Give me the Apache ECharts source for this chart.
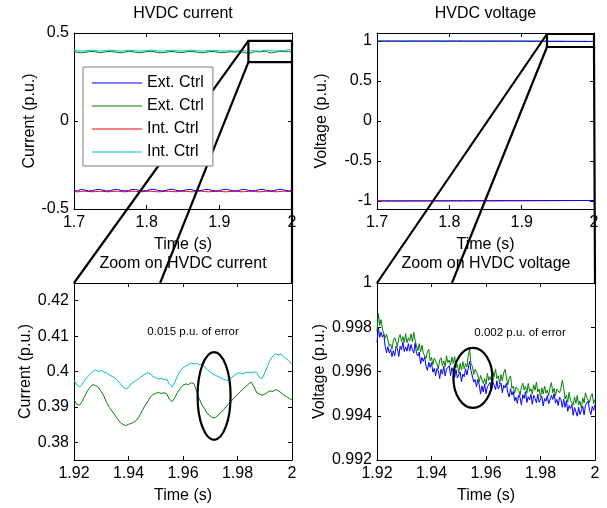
<!DOCTYPE html>
<html>
<head>
<meta charset="utf-8">
<script src="https://cdn.jsdelivr.net/npm/echarts@6/dist/echarts.min.js"></script>
<style>
  html, body { margin: 0; padding: 0; background: #fff; }
  #chart { width: 607px; height: 508px; }
</style>
</head>
<body>
<div id="chart"></div>
<script>
// ---- HVDC current: 1.70 .. 1.915 s, 5 ms samples (positive pole) ----
const curWideStart = 1.70, curWideStep = 0.005;
const greenCurWide = [0.3935,0.3905,0.3870,0.3895,0.3940,0.3950,0.3925,0.3885,0.3900,0.3945,
  0.3955,0.3930,0.3890,0.3880,0.3915,0.3950,0.3945,0.3905,0.3875,0.3900,
  0.3940,0.3955,0.3935,0.3895,0.3870,0.3895,0.3935,0.3950,0.3920,0.3885,
  0.3890,0.3935,0.3955,0.3940,0.3900,0.3875,0.3890,0.3935,0.3950,0.3930,
  0.3895,0.3880,0.3905,0.3935];
const cyanCurWide = [0.4010,0.3990,0.3965,0.3980,0.4010,0.4020,0.4000,0.3975,0.3985,0.4015,
  0.4025,0.4005,0.3980,0.3970,0.3995,0.4020,0.4015,0.3990,0.3965,0.3985,
  0.4010,0.4025,0.4010,0.3985,0.3965,0.3980,0.4010,0.4020,0.4000,0.3975,
  0.3980,0.4010,0.4025,0.4015,0.3990,0.3970,0.3980,0.4010,0.4020,0.4005,
  0.3985,0.3970,0.3985,0.4000];

// ---- HVDC current: negative pole, 1.70 .. 2.00 s, 5 ms samples ----
const blueCurNeg = [-0.3975,-0.3960,-0.3880,-0.3930,-0.3970,-0.3965,-0.3905,-0.3880,-0.3940,-0.3975,
  -0.3960,-0.3900,-0.3885,-0.3945,-0.3970,-0.3950,-0.3895,-0.3890,-0.3950,-0.3975,
  -0.3955,-0.3895,-0.3880,-0.3935,-0.3975,-0.3960,-0.3900,-0.3875,-0.3930,-0.3970,
  -0.3960,-0.3905,-0.3885,-0.3940,-0.3975,-0.3955,-0.3895,-0.3890,-0.3945,-0.3975,
  -0.3960,-0.3900,-0.3880,-0.3935,-0.3970,-0.3960,-0.3905,-0.3885,-0.3940,-0.3970,
  -0.3955,-0.3895,-0.3885,-0.3945,-0.3975,-0.3960,-0.3900,-0.3880,-0.3935,-0.3970,
  -0.3960];
const redCurNeg = [-0.4010,-0.4025,-0.4000,-0.3985,-0.4005,-0.4020,-0.4010,-0.3990,-0.4000,-0.4020,
  -0.4015,-0.3995,-0.3990,-0.4010,-0.4025,-0.4005,-0.3990,-0.4000,-0.4020,-0.4015,
  -0.3995,-0.3985,-0.4005,-0.4025,-0.4015,-0.3995,-0.3990,-0.4010,-0.4020,-0.4005,
  -0.3990,-0.4000,-0.4020,-0.4020,-0.4000,-0.3985,-0.4005,-0.4025,-0.4010,-0.3995,
  -0.3995,-0.4015,-0.4025,-0.4005,-0.3990,-0.4000,-0.4020,-0.4015,-0.3995,-0.3990,
  -0.4010,-0.4025,-0.4010,-0.3990,-0.3995,-0.4015,-0.4020,-0.4000,-0.3985,-0.4005,
  -0.4020];

// ---- HVDC current: 1.92 .. 2.00 s, 1 ms samples ----
const curZoomStart = 1.92, curZoomStep = 0.001;
const greenCurZoom = [0.3920,0.3908,0.3905,0.3915,0.3931,0.3946,0.3957,0.3963,0.3960,0.3955,
  0.3943,0.3930,0.3912,0.3898,0.3888,0.3877,0.3866,0.3856,0.3850,0.3847,
  0.3851,0.3853,0.3857,0.3863,0.3874,0.3889,0.3903,0.3914,0.3928,0.3935,
  0.3938,0.3941,0.3938,0.3940,0.3937,0.3922,0.3915,0.3926,0.3941,0.3953,
  0.3961,0.3965,0.3963,0.3968,0.3966,0.3944,0.3922,0.3905,0.3893,0.3881,
  0.3874,0.3869,0.3870,0.3878,0.3885,0.3893,0.3902,0.3910,0.3919,0.3928,
  0.3935,0.3943,0.3951,0.3957,0.3964,0.3970,0.3958,0.3941,0.3937,0.3933,
  0.3936,0.3941,0.3945,0.3944,0.3949,0.3946,0.3940,0.3934,0.3929,0.3924,
  0.3920];
const cyanCurZoom = [0.3976,0.3962,0.3956,0.3964,0.3976,0.3985,0.3993,0.4001,0.4005,0.3999,
  0.4003,0.3998,0.3996,0.3990,0.3986,0.3982,0.3974,0.3966,0.3956,0.3951,
  0.3955,0.3966,0.3970,0.3975,0.3981,0.3987,0.3992,0.3997,0.3993,0.3986,
  0.3982,0.3979,0.3981,0.3977,0.3979,0.3965,0.3956,0.3970,0.3988,0.4003,
  0.4010,0.4016,0.4019,0.4024,0.4021,0.4023,0.4019,0.4021,0.4012,0.4005,
  0.3998,0.3993,0.3989,0.3985,0.3981,0.3978,0.3975,0.3976,0.3984,0.3990,
  0.3995,0.3996,0.3993,0.3997,0.3998,0.3996,0.3999,0.3998,0.3984,0.3980,
  0.3996,0.4015,0.4032,0.4044,0.4050,0.4047,0.4049,0.4040,0.4036,0.4028,
  0.4021];

// ---- HVDC voltage: 1.70 .. 1.91 s, 10 ms samples (positive pole) ----
const volWideStart = 1.70, volWideStep = 0.01;
const greenVolWide = [0.9990,0.9993,0.9988,0.9991,0.9986,0.9989,0.9992,0.9987,0.9990,0.9985,
  0.9988,0.9991,0.9986,0.9983,0.9987,0.9984,0.9988,0.9982,0.9985,0.9981,0.9984,0.9980];
const blueVolWide = [0.9986,0.9988,0.9984,0.9987,0.9981,0.9985,0.9987,0.9983,0.9985,0.9981,
  0.9984,0.9986,0.9982,0.9979,0.9982,0.9980,0.9983,0.9978,0.9981,0.9977,0.9980,0.9976];

// ---- HVDC voltage: negative pole, 1.70 .. 2.00 s, 10 ms samples ----
const blueVolNeg = [-1.0000,-0.9998,-0.9995,-0.9996,-0.9992,-0.9990,-0.9991,-0.9987,-0.9985,-0.9986,
  -0.9982,-0.9980,-0.9978,-0.9979,-0.9975,-0.9972,-0.9973,-0.9970,-0.9966,-0.9967,
  -0.9963,-0.9960,-0.9958,-0.9955,-0.9953,-0.9950,-0.9948,-0.9946,-0.9943,-0.9940,-0.9938];
const redVolNeg = [-0.9995,-0.9992,-0.9990,-0.9991,-0.9987,-0.9985,-0.9986,-0.9982,-0.9980,-0.9981,
  -0.9977,-0.9975,-0.9973,-0.9974,-0.9970,-0.9967,-0.9968,-0.9965,-0.9961,-0.9962,
  -0.9958,-0.9955,-0.9953,-0.9950,-0.9948,-0.9945,-0.9943,-0.9941,-0.9938,-0.9935,-0.9933];

// ---- HVDC voltage: 1.92 .. 2.00 s, 0.5 ms samples ----
const volZoomStart = 1.92, volZoomStep = 0.0005;
const greenVolZoom = [0.99780,0.99862,0.99808,0.99834,0.99792,0.99791,0.99750,0.99769,0.99770,0.99714,
  0.99724,0.99701,0.99740,0.99753,0.99734,0.99712,0.99752,0.99767,0.99736,0.99758,
  0.99732,0.99771,0.99730,0.99752,0.99738,0.99770,0.99736,0.99777,0.99738,0.99741,
  0.99694,0.99726,0.99688,0.99719,0.99682,0.99691,0.99660,0.99689,0.99700,0.99649,
  0.99664,0.99631,0.99660,0.99663,0.99634,0.99612,0.99652,0.99662,0.99626,0.99648,
  0.99622,0.99671,0.99640,0.99652,0.99628,0.99665,0.99636,0.99667,0.99618,0.99631,
  0.99594,0.99636,0.99608,0.99644,0.99612,0.99636,0.99620,0.99674,0.99700,0.99634,
  0.99624,0.99586,0.99610,0.99613,0.99584,0.99552,0.99582,0.99587,0.99546,0.99568,
  0.99542,0.99591,0.99560,0.99577,0.99558,0.99600,0.99576,0.99612,0.99568,0.99581,
  0.99544,0.99586,0.99558,0.99594,0.99610,0.99571,0.99540,0.99569,0.99580,0.99524,
  0.99534,0.99501,0.99530,0.99538,0.99514,0.99492,0.99532,0.99547,0.99516,0.99533,
  0.99502,0.99546,0.99510,0.99522,0.99498,0.99540,0.99516,0.99552,0.99508,0.99521,
  0.99484,0.99526,0.99498,0.99534,0.99502,0.99516,0.99490,0.99529,0.99550,0.99504,
  0.99524,0.99491,0.99520,0.99528,0.99504,0.99525,0.99560,0.99527,0.99476,0.99493,
  0.99462,0.99506,0.99470,0.99477,0.99448,0.99485,0.99456,0.99492,0.99448,0.99466,
  0.99434,0.99481,0.99458,0.99504,0.99482,0.99491,0.99460,0.99489,0.99500,0.99454,
  0.99474];
const blueVolZoom = [0.99730,0.99800,0.99754,0.99778,0.99756,0.99767,0.99714,0.99685,0.99712,0.99684,
  0.99700,0.99667,0.99694,0.99671,0.99714,0.99702,0.99668,0.99715,0.99698,0.99734,
  0.99690,0.99711,0.99692,0.99726,0.99692,0.99722,0.99698,0.99683,0.99728,0.99681,
  0.99670,0.99688,0.99634,0.99663,0.99646,0.99667,0.99624,0.99605,0.99642,0.99619,
  0.99640,0.99597,0.99614,0.99581,0.99614,0.99602,0.99568,0.99610,0.99588,0.99624,
  0.99580,0.99611,0.99602,0.99626,0.99582,0.99617,0.99598,0.99573,0.99608,0.99571,
  0.99570,0.99598,0.99554,0.99588,0.99576,0.99612,0.99584,0.99590,0.99646,0.99604,
  0.99600,0.99552,0.99564,0.99531,0.99564,0.99542,0.99498,0.99535,0.99508,0.99544,
  0.99500,0.99531,0.99522,0.99551,0.99512,0.99552,0.99538,0.99518,0.99558,0.99521,
  0.99520,0.99548,0.99504,0.99538,0.99526,0.99547,0.99504,0.99485,0.99522,0.99494,
  0.99510,0.99467,0.99484,0.99456,0.99494,0.99482,0.99448,0.99495,0.99478,0.99509,
  0.99460,0.99486,0.99472,0.99496,0.99452,0.99492,0.99478,0.99458,0.99498,0.99461,
  0.99460,0.99488,0.99444,0.99478,0.99466,0.99492,0.99454,0.99445,0.99492,0.99474,
  0.99500,0.99457,0.99474,0.99446,0.99484,0.99472,0.99438,0.99475,0.99438,0.99469,
  0.99420,0.99446,0.99432,0.99451,0.99402,0.99437,0.99418,0.99398,0.99438,0.99406,
  0.99410,0.99443,0.99404,0.99448,0.99446,0.99467,0.99424,0.99405,0.99442,0.99424,
  0.99450];

// ---- tick labels ----
const ticksTimeWide = [1.7, 1.8, 1.9, 2];
const ticksTimeZoom = [1.92, 1.94, 1.96, 1.98, 2];
const ticksCur = [-0.5, 0, 0.5];
const ticksVol = [-1, -0.5, 0, 0.5, 1];
const ticksCurZoom = [0.38, 0.39, 0.4, 0.41, 0.42];
const ticksVolZoom = [0.992, 0.994, 0.996, 0.998, 1];

// ---- zoom-box annotations (data coordinates) ----
const curBox = { x0: 1.94, x1: 2.0, y0: 0.335, y1: 0.455 };
const curBoxFoot = { xs: [1.92, 1.9516, 2.0], y: 0.425 };   // landing points on the zoom panel top edge
const volBox = { x0: 1.935, x1: 2.0, y0: 0.925, y1: 1.0875 };
const volBoxFoot = { xs: [1.92, 1.9475, 2.0], y: 1.0 };
const curErr = { cx: 1.9714, cy: 0.3931, rx: 0.00606, ry: 0.0124, tx: 1.9637, ty: 0.4112, text: '0.015 p.u. of error' };
const volErr = { cx: 1.9552, cy: 0.99571, rx: 0.00716, ry: 0.001356, tx: 1.9725, ty: 0.99774, text: '0.002 p.u. of error' };

const FONT = '"Liberation Sans", Arial, Helvetica, sans-serif';
const BLUE = '#0000ff', GREEN = '#008000', RED = '#ff0000', CYAN = '#00bfbf';

const timeGrid = (start, step, n) => Array.from({ length: n }, (_, i) => +(start + i * step).toFixed(5));
const pairs = (ts, vs) => vs.map((v, i) => [ts[i], v]);

const tCurWide = timeGrid(curWideStart, curWideStep, greenCurWide.length);
const tCurNeg = timeGrid(curWideStart, curWideStep, blueCurNeg.length);
const tCurZoom = timeGrid(curZoomStart, curZoomStep, greenCurZoom.length);
const tVolWide = timeGrid(volWideStart, volWideStep, greenVolWide.length);
const tVolNeg = timeGrid(volWideStart, volWideStep, blueVolNeg.length);
const tVolZoom = timeGrid(volZoomStart, volZoomStep, greenVolZoom.length);

const grids = [
  { left: 74, top: 33, width: 218, height: 176 },
  { left: 377, top: 33, width: 217, height: 176 },
  { left: 74, top: 283, width: 218, height: 177 },
  { left: 377, top: 283, width: 218, height: 177 }
];

const axisFmt = v => String(+(+v).toFixed(4));
const lineStyleAxis = { show: true, onZero: false, lineStyle: { color: '#000', width: 1 } };
const tickStyle = ticks => ({ show: true, inside: true, length: 4, lineStyle: { color: '#000' }, customValues: ticks });

function mainX(k, min, max, ticks, name) {
  return {
    type: 'value', gridIndex: k, min, max, position: 'bottom',
    axisLine: lineStyleAxis, axisTick: tickStyle(ticks),
    axisLabel: { show: true, margin: 6, color: '#000', fontSize: 16, fontFamily: FONT, customValues: ticks, formatter: axisFmt },
    splitLine: { show: false },
    name, nameLocation: 'middle', nameGap: 28,
    nameTextStyle: { color: '#000', fontSize: 16, fontFamily: FONT }
  };
}
function topX(k, min, max, ticks, title) {
  return {
    type: 'value', gridIndex: k, min, max, position: 'top',
    axisLine: lineStyleAxis, axisTick: tickStyle(ticks),
    axisLabel: { show: false }, splitLine: { show: false },
    name: title, nameLocation: 'middle', nameGap: 11,
    nameTextStyle: { color: '#000', fontSize: 16, fontFamily: FONT }
  };
}
function mainY(k, min, max, ticks, name, gap) {
  return {
    type: 'value', gridIndex: k, min, max, position: 'left',
    axisLine: lineStyleAxis, axisTick: tickStyle(ticks),
    axisLabel: { show: true, margin: 5, color: '#000', fontSize: 16, fontFamily: FONT, customValues: ticks, formatter: axisFmt },
    splitLine: { show: false },
    name, nameLocation: 'middle', nameGap: gap, nameRotate: 90,
    nameTextStyle: { color: '#000', fontSize: 16, fontFamily: FONT }
  };
}
function rightY(k, min, max, ticks) {
  return {
    type: 'value', gridIndex: k, min, max, position: 'right',
    axisLine: lineStyleAxis, axisTick: tickStyle(ticks),
    axisLabel: { show: false }, splitLine: { show: false }
  };
}

function line(name, k, data, color) {
  return {
    type: 'line', name, xAxisIndex: k, yAxisIndex: k, data,
    symbol: 'none', showSymbol: false, animation: false, clip: true,
    lineStyle: { color, width: 1 }, itemStyle: { color }
  };
}

const chart = echarts.init(document.getElementById('chart'), null, { renderer: 'canvas' });

chart.setOption({
  backgroundColor: '#fff',
  animation: false,
  grid: grids.map(g => Object.assign({ containLabel: false }, g)),
  xAxis: [
    mainX(0, 1.7, 2.0, ticksTimeWide, 'Time (s)'),
    mainX(1, 1.7, 2.0, ticksTimeWide, 'Time (s)'),
    mainX(2, 1.92, 2.0, ticksTimeZoom, 'Time (s)'),
    mainX(3, 1.92, 2.0, ticksTimeZoom, 'Time (s)'),
    topX(0, 1.7, 2.0, ticksTimeWide, 'HVDC current'),
    topX(1, 1.7, 2.0, ticksTimeWide, 'HVDC voltage'),
    topX(2, 1.92, 2.0, ticksTimeZoom, 'Zoom on HVDC current'),
    topX(3, 1.92, 2.0, ticksTimeZoom, 'Zoom on HVDC voltage')
  ],
  yAxis: [
    mainY(0, -0.5, 0.5, ticksCur, 'Current (p.u.)', 28),
    mainY(1, -1.1, 1.1, ticksVol, 'Voltage (p.u.)', 47),
    mainY(2, 0.375, 0.425, ticksCurZoom, 'Current (p.u.)', 28),
    mainY(3, 0.992, 1.0, ticksVolZoom, 'Voltage (p.u.)', 47),
    rightY(0, -0.5, 0.5, ticksCur),
    rightY(1, -1.1, 1.1, ticksVol),
    rightY(2, 0.375, 0.425, ticksCurZoom),
    rightY(3, 0.992, 1.0, ticksVolZoom)
  ],
  legend: {
    data: ['Ext. Ctrl|neg', 'Ext. Ctrl|pos', 'Int. Ctrl|neg', 'Int. Ctrl|pos'],
    formatter: n => n.split('|')[0],
    orient: 'vertical', left: 83, top: 67,
    padding: [8, 9, 6, 9],
    icon: 'rect', itemWidth: 50, itemHeight: 1, itemGap: 7,
    backgroundColor: '#fff', borderColor: '#7f7f7f', borderWidth: 1, borderRadius: 0,
    selectedMode: false, z: 10,
    textStyle: { color: '#000', fontSize: 16, fontFamily: FONT, lineHeight: 16 }
  },
  series: [
    // HVDC current, full window
    line('Int. Ctrl|neg', 0, pairs(tCurNeg, redCurNeg), RED),
    line('Ext. Ctrl|neg', 0, pairs(tCurNeg, blueCurNeg), BLUE),
    line('Ext. Ctrl|pos', 0, pairs(tCurWide, greenCurWide).concat(pairs(tCurZoom, greenCurZoom)), GREEN),
    line('Int. Ctrl|pos', 0, pairs(tCurWide, cyanCurWide).concat(pairs(tCurZoom, cyanCurZoom)), CYAN),
    // HVDC voltage, full window
    line('V ext pos', 1, pairs(tVolWide, greenVolWide).concat(pairs(tVolZoom, greenVolZoom)), GREEN),
    line('V int pos', 1, pairs(tVolWide, blueVolWide).concat(pairs(tVolZoom, blueVolZoom)), BLUE),
    line('V int neg', 1, pairs(tVolNeg, redVolNeg), RED),
    line('V ext neg', 1, pairs(tVolNeg, blueVolNeg), BLUE),
    // zoomed current
    line('Zoom ext current', 2, pairs(tCurZoom, greenCurZoom), GREEN),
    line('Zoom int current', 2, pairs(tCurZoom, cyanCurZoom), CYAN),
    // zoomed voltage
    line('Zoom int voltage', 3, pairs(tVolZoom, blueVolZoom), BLUE),
    line('Zoom ext voltage', 3, pairs(tVolZoom, greenVolZoom), GREEN)
  ]
});

// Zoom boxes, guide lines, error ellipses and notes, placed through the axes
const P = (k, x, y) => chart.convertToPixel({ xAxisIndex: k, yAxisIndex: k }, [x, y]);
const STROKE = { stroke: '#000', lineWidth: 2.2, fill: null };

function zoomGuides(src, dst, box, foot) {
  const a = P(src, box.x0, box.y1), b = P(src, box.x1, box.y0);
  const els = [{
    type: 'rect', z: 5,
    shape: { x: a[0], y: a[1], width: b[0] - a[0], height: b[1] - a[1] },
    style: Object.assign({}, STROKE)
  }];
  const starts = [[box.x0, box.y1], [box.x0, box.y0], [box.x1, box.y0]];
  starts.forEach((s, i) => {
    const p = P(src, s[0], s[1]);
    const q = P(dst, foot.xs[i], foot.y);
    els.push({ type: 'line', z: 5, shape: { x1: p[0], y1: p[1], x2: q[0], y2: q[1] }, style: Object.assign({}, STROKE) });
  });
  return els;
}
function errorMark(k, e) {
  const c = P(k, e.cx, e.cy), r = P(k, e.cx + e.rx, e.cy + e.ry), t = P(k, e.tx, e.ty);
  return [
    { type: 'ellipse', z: 5, shape: { cx: c[0], cy: c[1], rx: r[0] - c[0], ry: c[1] - r[1] }, style: Object.assign({}, STROKE) },
    { type: 'text', z: 5, style: { x: t[0], y: t[1], text: e.text, fill: '#000', font: '11.5px ' + FONT, align: 'center', verticalAlign: 'middle', textAlign: 'center', textVerticalAlign: 'middle' } }
  ];
}

chart.setOption({
  graphic: [].concat(
    zoomGuides(0, 2, curBox, curBoxFoot),
    zoomGuides(1, 3, volBox, volBoxFoot),
    errorMark(2, curErr),
    errorMark(3, volErr)
  )
});
</script>
</body>
</html>
